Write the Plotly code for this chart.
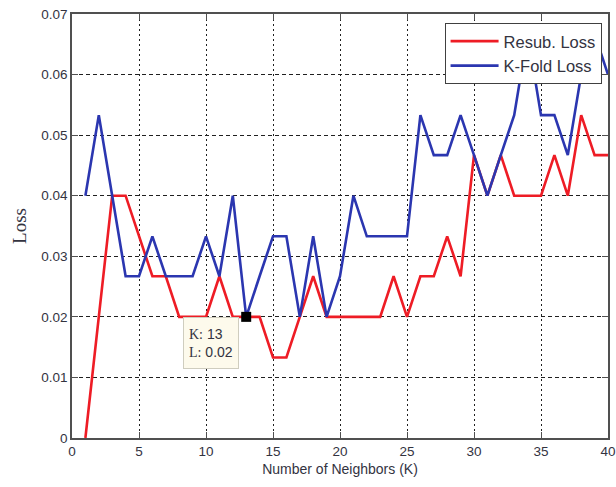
import plotly.graph_objects as go

# Number of neighbors
k_values = list(range(1, 41))

# Resubstitution loss (red)
resub_loss = [0.0, 0.02, 0.04, 0.04, 0.0333, 0.0267, 0.0267, 0.02, 0.02, 0.02,
              0.0267, 0.02, 0.02, 0.02, 0.0133, 0.0133, 0.02, 0.0267, 0.02, 0.02,
              0.02, 0.02, 0.02, 0.0267, 0.02, 0.0267, 0.0267, 0.0333, 0.0267, 0.0467,
              0.04, 0.0467, 0.04, 0.04, 0.04, 0.0467, 0.04, 0.0533, 0.0467, 0.0467]

# K-fold loss (blue)
kfold_loss = [0.04, 0.0533, 0.04, 0.0267, 0.0267, 0.0333, 0.0267, 0.0267, 0.0267, 0.0333,
              0.0267, 0.04, 0.02, 0.0267, 0.0333, 0.0333, 0.02, 0.0333, 0.02, 0.0267,
              0.04, 0.0333, 0.0333, 0.0333, 0.0333, 0.0533, 0.0467, 0.0467, 0.0533, 0.0467,
              0.04, 0.0467, 0.0533, 0.0667, 0.0533, 0.0533, 0.0467, 0.06, 0.0667, 0.06]

x_ticks = [0, 5, 10, 15, 20, 25, 30, 35, 40]
y_ticks = [0, 0.01, 0.02, 0.03, 0.04, 0.05, 0.06, 0.07]
y_tick_labels = ["0", "0.01", "0.02", "0.03", "0.04", "0.05", "0.06", "0.07"]

cursor_k = 13
cursor_loss = resub_loss[k_values.index(cursor_k)]

SANS = "Liberation Sans, Arial, sans-serif"
SERIF = "Liberation Serif, Times New Roman, serif"
TXT = "#33333f"

fig = go.Figure()
fig.add_trace(go.Scatter(x=k_values, y=resub_loss, mode="lines", name="Resub. Loss",
                         line=dict(color="#ee1c25", width=2.6)))
fig.add_trace(go.Scatter(x=k_values, y=kfold_loss, mode="lines", name="K-Fold Loss",
                         line=dict(color="#2b36b0", width=2.6)))
fig.add_trace(go.Scatter(x=[cursor_k], y=[cursor_loss], mode="markers", showlegend=False,
                         marker=dict(symbol="square", size=10, color="black",
                                     line=dict(width=0))))

fig.add_annotation(
    x=cursor_k - 2.6, y=cursor_loss - 0.0043, xref="x", yref="y",
    text=(f"<span style='font-family:{SERIF}'>K:</span> {cursor_k}<br>"
          f"<span style='font-family:{SERIF}'>L:</span> {cursor_loss:.2f}"),
    showarrow=False, align="left", bgcolor="#fdfaec", bordercolor="#cfcdbf",
    borderwidth=1, borderpad=5, font=dict(family=SANS, size=14, color=TXT),
    width=44, height=40,
)

axis_common = dict(
    showline=True, linecolor="#505050", linewidth=1.5, mirror="ticks",
    ticks="inside", ticklen=6, tickcolor="#505050", tickwidth=1,
    showgrid=True, gridcolor="#202020", gridwidth=1, zeroline=False,
    tickfont=dict(family=SANS, size=13.5, color=TXT),
)

fig.update_xaxes(range=[0, 40], tickvals=x_ticks, griddash="2px,3px",
                 title=dict(text="Number of Neighbors (K)", standoff=6,
                            font=dict(family=SANS, size=14, color=TXT)),
                 **axis_common)
fig.update_yaxes(range=[0, 0.07], tickvals=y_ticks, ticktext=y_tick_labels,
                 griddash="4px,3px",
                 title=dict(text="Loss", standoff=10,
                            font=dict(family=SERIF, size=19, color=TXT)),
                 **axis_common)

fig.update_layout(
    width=616, height=487,
    margin=dict(l=72, r=8, t=14, b=49, autoexpand=False),
    plot_bgcolor="white", paper_bgcolor="white",
    legend=dict(x=0.988, y=0.979, xanchor="right", yanchor="top",
                bgcolor="white", bordercolor="#404040", borderwidth=1,
                font=dict(family=SANS, size=16.5, color=TXT),
                tracegroupgap=0, itemwidth=48),
    showlegend=True,
)

fig.write_html("out.html")
